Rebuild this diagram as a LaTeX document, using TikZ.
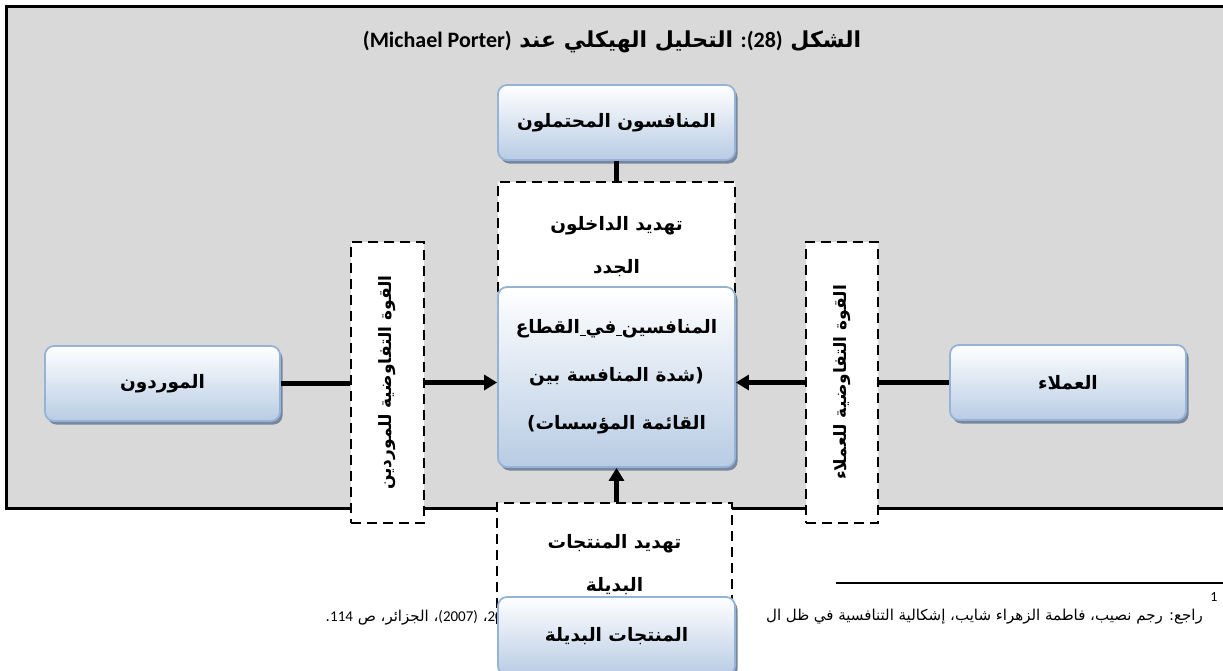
\documentclass[tikz,border=0pt]{standalone}
\usepackage{fontspec}
\usetikzlibrary{shadows,arrows.meta}
\TeXXeTstate=1
\newfontfamily\arfont[Script=Arabic]{DejaVu Sans}
\newfontfamily\carl{Carlito}
\newcommand\artext[1]{\beginR#1\endR}
\newcommand\usp{$\underline{\hspace{0.3em}}$}

\definecolor{panelgray}{RGB}{217,217,217}
\definecolor{boxedge}{RGB}{149,179,215}
\definecolor{boxlow}{RGB}{184,204,228}
\definecolor{boxshadow}{RGB}{120,134,158}

\tikzset{
  forcebox/.style={rounded corners=9pt, draw=boxedge, line width=1.8pt,
    top color=white, bottom color=boxlow,
    drop shadow={shadow xshift=2.5pt, shadow yshift=-3.5pt, fill=boxshadow, opacity=1},
    font=\arfont\bfseries\fontsize{18.5}{48}\selectfont, align=center, inner sep=0pt},
  threatbox/.style={draw=black, fill=white, line width=2.8pt, dash pattern=on 10pt off 6pt,
    font=\arfont\bfseries\fontsize{18.5}{43}\selectfont, align=center, inner sep=0pt},
  link/.style={line width=4.5pt},
  push/.style={line width=4.5pt, -{Triangle[length=13pt,width=15pt]}},
  fn/.style={font=\arfont\fontsize{15}{17}\selectfont, inner sep=0pt}
}
\newcommand\sidefont{\arfont\bfseries\fontsize{17}{20}\selectfont}

\begin{document}
\begin{tikzpicture}[x=1pt,y=-1pt]
\useasboundingbox (0,0) rectangle (1223,670);

% grey panel
\draw[line width=3pt, fill=panelgray] (6,6) rectangle (1230,508);

\node (title) at (612,42)
  {\arfont\bfseries\fontsize{22}{26}\selectfont
   \artext{الشكل {\carl\bfseries\beginL:(28)\endL} التحليل الهيكلي عند {\carl\bfseries\beginL(Michael Porter)\endL}}};

% footnote under the panel
\coordinate (rule-l) at (836,583);
\coordinate (rule-r) at (1223,583);
\draw[line width=1.5pt] (rule-l) -- (rule-r);
\node[fn] (fnmark) at (1214,597) {\carl\fontsize{14}{15}\selectfont 1};
\node[fn, anchor=east] (fnright) at (1203,617)
  {\artext{راجع: رجم نصيب، فاطمة الزهراء شايب، إشكالية التنافسية في ظل ال}};
\node[fn, anchor=east] (fnleft) at (503,618)
  {\artext{{\carl 20}، {\carl (2007)}، الجزائر، ص {\carl 114}.}};

% threat / bargaining boxes
\node[threatbox, minimum width=237pt, minimum height=130pt] (topdash) at (616.5,247)
  {\artext{تهديد الداخلون}\\\artext{الجدد}};
\node[threatbox, minimum width=235pt, minimum height=123pt] (botdash) at (614.5,564.5)
  {\artext{تهديد المنتجات}\\\artext{البديلة}};
\node[threatbox, minimum width=73pt, minimum height=281pt] (leftdash) at (387.5,382.5)
  {\rotatebox{90}{\sidefont\artext{القوة التفاوضية للموردين}}};
\node[threatbox, minimum width=72pt, minimum height=281pt] (rightdash) at (842,382.5)
  {\rotatebox{90}{\sidefont\artext{القوة التفاوضية للعملاء}}};

% forces
\node[forcebox, minimum width=237pt, minimum height=75pt] (entrants) at (616.5,122.5)
  {\artext{المنافسون المحتملون}};
\node[forcebox, minimum width=235pt, minimum height=75pt] (suppliers) at (162.5,383.5)
  {\artext{الموردون}};
\node[forcebox, minimum width=236pt, minimum height=75pt] (buyers) at (1068,382.5)
  {\artext{العملاء}};

% connectors
\draw[link] (entrants.south) -- (topdash.north);
\draw[link] (suppliers.east) -- (suppliers.east -| leftdash.west);
\draw[link] (buyers.west) -- (buyers.west -| rightdash.east);

\node[forcebox, minimum width=237pt, minimum height=180pt] (rivalry) at (616.5,377)
  {\artext{المنافسين\usp في\usp القطاع}\\
   \artext{(شدة المنافسة بين}\\
   \artext{القائمة المؤسسات)}};

\draw[push] (leftdash.east) -- (leftdash.east -| rivalry.west);
\draw[push] (rightdash.west) -- (rightdash.west -| rivalry.east);
\draw[push] (botdash.north -| rivalry.south) -- (rivalry.south);

\node[forcebox, minimum width=237pt, minimum height=78pt] (substitutes) at (616.5,636)
  {\artext{المنتجات البديلة}};
\end{tikzpicture}
\end{document}
